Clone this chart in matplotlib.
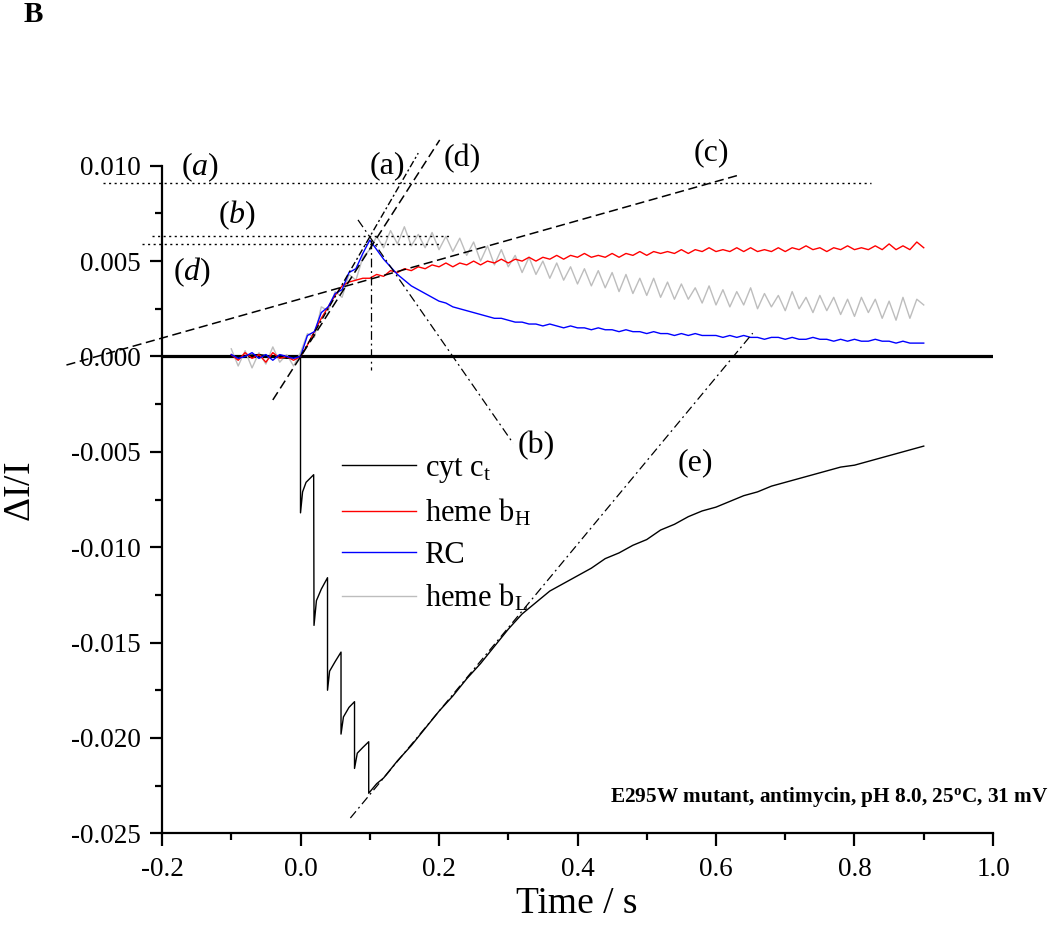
import matplotlib
matplotlib.use('Agg')
import matplotlib.pyplot as plt
from matplotlib.ticker import FixedLocator, MultipleLocator, FormatStrFormatter

plt.rcParams['font.family'] = ['Liberation Serif', 'DejaVu Serif']
plt.rcParams['mathtext.fontset'] = 'custom'
plt.rcParams['mathtext.rm'] = 'Liberation Serif'
plt.rcParams['mathtext.it'] = 'Liberation Serif:italic'
plt.rcParams['mathtext.bf'] = 'Liberation Serif:bold'

# sample times of the red / blue / grey traces (s)
t_grid = [round(-0.10 + 0.01 * i, 2) for i in range(101)]

heme_bH = [
    0.0001, -0.0002, 0.0002, -0.0001, 0.0001, -0.0003, 0.0002, -0.0001, 0.0000, -0.0002,
    0.0000, 0.0006, 0.0013, 0.0020, 0.0026, 0.0032, 0.0037, 0.0039, 0.0040, 0.0041,
    0.0041, 0.0043, 0.0042, 0.0045, 0.0044, 0.0046, 0.0045, 0.0047, 0.0046, 0.0048,
    0.0047, 0.0049, 0.0047, 0.0049, 0.0048, 0.0050, 0.0048, 0.0050, 0.0049, 0.0051,
    0.0049, 0.0051, 0.0050, 0.0052, 0.0050, 0.0052, 0.0051, 0.0053, 0.0051, 0.0053,
    0.0052, 0.0054, 0.0052, 0.0053, 0.0052, 0.0054, 0.0052, 0.0054, 0.0053, 0.0055,
    0.0053, 0.0055, 0.0054, 0.0055, 0.0054, 0.0056, 0.0054, 0.0056, 0.0055, 0.0057,
    0.0055, 0.0056, 0.0055, 0.0057, 0.0055, 0.0057, 0.0055, 0.0056, 0.0055, 0.0057,
    0.0055, 0.0057, 0.0056, 0.0058, 0.0056, 0.0057, 0.0055, 0.0057, 0.0056, 0.0058,
    0.0056, 0.0057, 0.0056, 0.0058, 0.0056, 0.0059, 0.0056, 0.0058, 0.0056, 0.0060,
    0.0057]

rc = [
    0.0001, -0.0001, 0.0000, 0.0002, -0.0001, 0.0001, -0.0002, 0.0001, 0.0000, -0.0001,
    0.0000, 0.0011, 0.0013, 0.0023, 0.0026, 0.0033, 0.0035, 0.0044, 0.0046, 0.0054,
    0.0061, 0.0056, 0.0051, 0.0047, 0.0043, 0.0040, 0.0037, 0.0035, 0.0033, 0.0031,
    0.0029, 0.0028, 0.0026, 0.0025, 0.0024, 0.0023, 0.0022, 0.0021, 0.0020, 0.0020,
    0.0019, 0.0018, 0.0018, 0.0017, 0.0017, 0.0016, 0.0017, 0.0016, 0.0015, 0.0016,
    0.0015, 0.0015, 0.0014, 0.0015, 0.0014, 0.0014, 0.0013, 0.0014, 0.0013, 0.0013,
    0.0012, 0.0013, 0.0012, 0.0012, 0.0011, 0.0012, 0.0011, 0.0012, 0.0011, 0.0011,
    0.0011, 0.0010, 0.0011, 0.0010, 0.0011, 0.0010, 0.0010, 0.0009, 0.0010, 0.0010,
    0.0009, 0.0010, 0.0009, 0.0009, 0.0010, 0.0009, 0.0009, 0.0008, 0.0009, 0.0008,
    0.0009, 0.0008, 0.0008, 0.0009, 0.0008, 0.0008, 0.0007, 0.0008, 0.0007, 0.0007,
    0.0007]

heme_bL = [
    0.0004, -0.0005, 0.0003, -0.0006, 0.0002, -0.0004, 0.0005, -0.0003, 0.0001, -0.0005,
    0.0002, 0.0012, 0.0010, 0.0026, 0.0024, 0.0034, 0.0031, 0.0043, 0.0040, 0.0052,
    0.0056, 0.0063, 0.0057, 0.0066, 0.0059, 0.0068, 0.0058, 0.0064, 0.0057, 0.0065,
    0.0056, 0.0063, 0.0055, 0.0062, 0.0053, 0.0060, 0.0050, 0.0058, 0.0048, 0.0056,
    0.0047, 0.0053, 0.0044, 0.0052, 0.0043, 0.0050, 0.0041, 0.0049, 0.0040, 0.0047,
    0.0038, 0.0046, 0.0037, 0.0045, 0.0036, 0.0044, 0.0034, 0.0043, 0.0033, 0.0041,
    0.0032, 0.0041, 0.0031, 0.0039, 0.0030, 0.0038, 0.0030, 0.0036, 0.0028, 0.0037,
    0.0027, 0.0035, 0.0026, 0.0034, 0.0027, 0.0036, 0.0025, 0.0033, 0.0026, 0.0032,
    0.0024, 0.0034, 0.0025, 0.0031, 0.0023, 0.0032, 0.0024, 0.0031, 0.0022, 0.0030,
    0.0021, 0.0031, 0.0023, 0.0030, 0.0020, 0.0029, 0.0019, 0.0031, 0.0020, 0.0030,
    0.0027]

# cyt c_t: flash-by-flash drops, then slow recovery
cyt_t = [-0.100, -0.060, -0.020, 0.000,
         0.000, 0.003, 0.008, 0.019,
         0.0195, 0.023, 0.030, 0.039,
         0.039, 0.042, 0.050, 0.0585,
         0.0585, 0.062, 0.070, 0.078,
         0.078, 0.082, 0.090, 0.0985,
         0.0985, 0.11, 0.12, 0.14, 0.16, 0.18, 0.20, 0.22, 0.24, 0.26, 0.28,
         0.30, 0.32, 0.34, 0.36, 0.38, 0.40, 0.42, 0.44, 0.46, 0.48,
         0.50, 0.52, 0.54, 0.56, 0.58, 0.60, 0.62, 0.64, 0.66, 0.68,
         0.70, 0.72, 0.74, 0.76, 0.78, 0.80, 0.82, 0.84, 0.86, 0.88, 0.90]
cyt_c = [0.0000, 0.0001, -0.0001, 0.0000,
         -0.0082, -0.0071, -0.0066, -0.0062,
         -0.0141, -0.0128, -0.0122, -0.0116,
         -0.0175, -0.0165, -0.0160, -0.0155,
         -0.0198, -0.0189, -0.0184, -0.0181,
         -0.0216, -0.0208, -0.0205, -0.0202,
         -0.0229, -0.0224, -0.0221, -0.0212, -0.0204, -0.0195, -0.0186, -0.0178, -0.0169, -0.0161, -0.0152,
         -0.0143, -0.0135, -0.0129, -0.0123, -0.0119, -0.0115, -0.0111, -0.0106, -0.0103, -0.0099,
         -0.0096, -0.0091, -0.0088, -0.0084, -0.0081, -0.0079, -0.0076, -0.0073, -0.0071, -0.0068,
         -0.0066, -0.0064, -0.0062, -0.0060, -0.0058, -0.0057, -0.0055, -0.0053, -0.0051, -0.0049, -0.0047]

# construction lines: (t0, t1), (y0, y1)
fit_c = ([-0.338, 0.634], [-0.00045, 0.00952])
fit_d = ([-0.040, 0.201], [-0.00228, 0.01135])
fit_a = ([0.000, 0.170], [0.0000, 0.01066])
fit_b = ([0.083, 0.307], [0.00716, -0.00455])
fit_e = ([0.072, 0.653], [-0.0242, 0.00122])
peak_line = ([0.1025, 0.1025], [0.0061, -0.0007])
level_a = ([-0.285, 0.824], [0.00909, 0.00909])
level_b = ([-0.215, 0.2155], [0.00629, 0.00629])
level_d = ([-0.2295, 0.201], [0.00592, 0.00592])

fig = plt.figure(figsize=(10.5, 9.3), dpi=100)
ax = fig.add_axes([0.1543, 0.1040, 0.7914, 0.7178])

ax.axhline(0, color='black', lw=2.3, zorder=1)

ax.plot(cyt_t, cyt_c, color='black', lw=1.0, label=r'cyt c$_\mathrm{t}$', zorder=3)
ax.plot(t_grid, heme_bH, color='red', lw=1.0, label=r'heme b$_\mathrm{H}$', zorder=3)
ax.plot(t_grid, rc, color='blue', lw=1.0, label='RC', zorder=4)
ax.plot(t_grid, heme_bL, color='#bdbdbd', lw=1.0, label=r'heme b$_\mathrm{L}$', zorder=2)

dash = (0, (6, 3))
dashdot = (0, (7, 3, 1.5, 3))
ax.plot(*fit_c, color='black', lw=1.1, ls=dash, clip_on=False, zorder=5)
ax.plot(*fit_d, color='black', lw=1.1, ls=dash, clip_on=False, zorder=5)
ax.plot(*fit_a, color='black', lw=1.0, ls=(0, (5, 2, 1.5, 2)), clip_on=False, zorder=5)
ax.plot(*fit_b, color='black', lw=0.9, ls=dashdot, clip_on=False, zorder=5)
ax.plot(*fit_e, color='black', lw=0.9, ls=dashdot, clip_on=False, zorder=5)
ax.plot(*peak_line, color='black', lw=0.9, ls=dashdot, zorder=5)
for lv in (level_a, level_b, level_d):
    ax.plot(*lv, color='black', lw=1.0, ls=(0, (1.5, 2.5)), clip_on=False, zorder=5)

# curve labels
lab_kw = dict(fontsize=23, ha='center', va='center')
ax.text(-0.145, 0.00994, '($a$)', **lab_kw)
ax.text(-0.092, 0.00742, '($b$)', **lab_kw)
ax.text(-0.157, 0.00444, '($d$)', **lab_kw)
ax.text(0.126, 0.00999, '(a)', **lab_kw)
ax.text(0.233, 0.01036, '(d)', **lab_kw)
ax.text(0.594, 0.01067, '(c)', **lab_kw)
ax.text(0.341, -0.00469, '(b)', **lab_kw)
ax.text(0.5705, -0.00558, '(e)', **lab_kw)

ax.set_xlim(-0.2, 1.0)
ax.set_ylim(-0.025, 0.010)
ax.xaxis.set_major_locator(MultipleLocator(0.2))
ax.xaxis.set_minor_locator(MultipleLocator(0.1))
ax.xaxis.set_major_formatter(FormatStrFormatter('%.1f'))
ax.yaxis.set_major_locator(FixedLocator([-0.025, -0.020, -0.015, -0.010, -0.005, 0.0, 0.005, 0.010]))
ax.yaxis.set_minor_locator(MultipleLocator(0.0025))
ax.yaxis.set_major_formatter(FormatStrFormatter('%.3f'))

for side in ('top', 'right'):
    ax.spines[side].set_visible(False)
for side in ('left', 'bottom'):
    ax.spines[side].set_linewidth(1.6)
ax.tick_params(which='major', direction='out', length=9, width=1.6, labelsize=19.5)
ax.tick_params(which='minor', direction='out', length=5, width=1.6)
ax.tick_params(axis='x', which='major', pad=8)
ax.tick_params(axis='y', which='major', pad=6)

leg = ax.legend(loc='upper left', bbox_to_anchor=(0.2166, 0.568), frameon=False,
                fontsize=22, handlelength=2.42, handletextpad=0.28,
                labelspacing=0.4, borderpad=0, borderaxespad=0)

fig.text(1048 / 1050, 1 - 797 / 930,
         r'E295W mutant, antimycin, pH 8.0, 25$^{\mathbf{o}}$C, 31 mV',
         fontsize=15.3, fontweight='bold', ha='right', va='center')
fig.text(577 / 1050, 1 - 904 / 930, 'Time / s', fontsize=27, ha='center', va='center')
fig.text(21 / 1050, 1 - 492 / 930, r'$\Delta$I/I', fontsize=27, rotation=90,
         ha='center', va='center')
fig.text(33 / 1050, 1 - 15 / 930, 'B', fontsize=21, fontweight='bold', ha='center', va='center')

fig.savefig('out.png', dpi=100)
